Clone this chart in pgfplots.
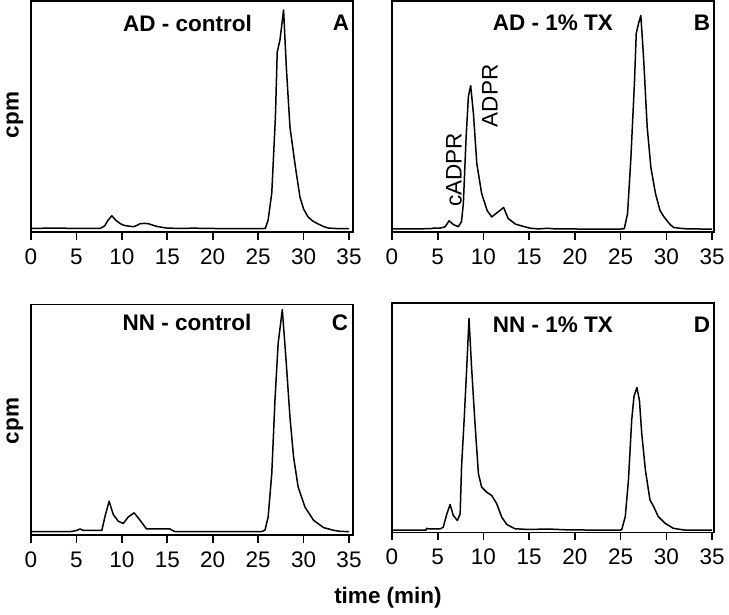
\documentclass[border=0pt]{standalone}
\usepackage{pgfplots}
\pgfplotsset{compat=1.18}
\usepackage{fontspec}
\setmainfont{Liberation Sans}
\pgfplotsset{
  panel/.style={
    scale only axis, width=322pt, anchor=south west,
    xmin=0, axis line style={line width=1.6pt},
    xtick={0,5,...,35}, ytick=\empty, xtick pos=bottom,
    tick align=outside, major tick length=8pt,
    every tick/.style={line width=1.6pt, black},
    tick label style={font=\fontsize{22.5}{26}\selectfont},
    /pgf/number format/assume math mode=true,
    xticklabel style={yshift=-5pt},
    clip=false,
  },
  trace/.style={black, line width=1.5pt, line join=round, no markers},
}
\begin{document}
\begin{tikzpicture}[x=1pt,y=1pt]
\useasboundingbox (0,0) rectangle (729,615);
% Panel A
\begin{axis}[panel, at={(31pt,383pt)}, height=231pt, xmax=35.44, ymin=-3, ymax=228]
\addplot[trace] coordinates {(0,0.7) (3,0.8) (6,0.6) (7.6,0.5) (8.1,3) (8.5,9) (8.9,13.3) (9.3,9) (9.8,5.5) (10.2,3.7) (10.8,2.8) (11.3,2.3) (11.7,3.8) (12.0,5.3) (12.5,5.6) (12.9,5.3) (13.5,3.5) (14.0,2.3) (14.9,1) (16,0.6) (18,0.8) (20,0.5) (23,0.4) (25.5,0.4) (25.8,0.7) (26.1,9) (26.5,36) (26.9,112) (27.1,177) (27.4,189) (27.8,219) (28.1,162) (28.5,102) (29.1,62) (29.6,32) (30.0,20) (30.5,12) (31.0,8) (31.6,5) (32.2,2.5) (32.7,1) (33.5,0.5) (35,0.3)};
\end{axis}
% Panel B
\begin{axis}[panel, at={(392pt,383pt)}, height=231pt, xmax=35.2, ymin=-2.5, ymax=228.5]
\addplot[trace] coordinates {(0,0.5) (3,0.7) (4.2,0.8) (4.6,1.5) (5.25,1.3) (5.8,2.7) (6.24,8.7) (6.7,5) (7.25,2.7) (7.6,8) (7.8,26) (8.1,92) (8.35,133) (8.6,144) (8.9,116) (9.27,66) (9.8,36) (10.4,19) (10.9,12.6) (11.6,17.6) (12.2,22) (12.7,11) (13.5,5.3) (14.4,3) (15.1,1.3) (16,0.6) (17,1.2) (18,0.5) (20,0.5) (23,0.4) (25.2,0.5) (25.4,1) (25.75,16) (26.1,69) (26.5,146) (26.7,196) (26.95,206) (27.2,214) (27.5,172) (27.9,102) (28.3,62) (28.8,36) (29.3,19) (29.7,13) (30.05,9) (30.4,5) (30.8,2) (31.5,1.2) (32.2,0.7) (35,0.3)};
\end{axis}
% Panel C
\begin{axis}[panel, at={(31pt,80pt)}, height=230.5pt, xmax=35.44, ymin=-3, ymax=227.5]
\addplot[trace] coordinates {(0,0.3) (4.5,0.5) (5.0,1.5) (5.4,3) (5.8,1.5) (7.5,1.5) (7.8,1.7) (8.15,15.8) (8.6,30.8) (9.05,17.5) (9.6,10.8) (10.15,8.5) (10.7,15) (11.35,19.2) (12.0,11.8) (12.7,3.2) (13.5,3) (15.3,3) (15.8,0.5) (18,0.3) (25.3,0.3) (25.75,1.7) (26.1,15) (26.5,58.6) (26.85,131.7) (27.2,188.4) (27.66,222.4) (28.1,168.4) (28.5,115) (28.9,75) (29.4,45) (30.15,25) (31.1,11.7) (32.2,4.4) (33.3,1.7) (34,0.7) (35,0.3)};
\end{axis}
% Panel D
\begin{axis}[panel, at={(392pt,82.5pt)}, height=229.5pt, xmax=35.2, ymin=-2, ymax=227.5]
\addplot[trace] coordinates {(0,0.3) (3.7,0.3) (3.8,2.3) (4.0,1.5) (5.3,1.7) (5.6,3.3) (6.0,16.7) (6.35,26) (6.7,15) (7.15,10) (7.45,16.7) (7.6,63) (7.9,113) (8.17,163) (8.42,212) (8.7,163) (9.1,103) (9.45,56.7) (9.8,43.3) (10.35,38.3) (10.9,35) (11.45,26.7) (12.0,13.3) (12.55,6) (13.45,1.7) (15,1) (17,1.5) (19,0.7) (22,0.4) (25.1,0.5) (25.5,13.8) (25.85,50.5) (26.2,110) (26.45,134) (26.77,143) (27.05,130) (27.3,97) (27.7,60.5) (28.2,30.5) (28.6,24) (29.1,14) (29.85,7.2) (30.75,2.2) (31.9,0.5) (35,0.3)};
\end{axis}
% Texts
\begin{scope}[every node/.style={font=\fontsize{22.5}{26}\selectfont\bfseries, inner sep=0pt}]
\node at (187.5,592) {AD - control};
\node at (341,592) {A};
\node at (553,592) {AD - 1\% TX};
\node at (702,592) {B};
\node at (187,292.5) {NN - control};
\node at (340,292.5) {C};
\node at (553,290.5) {NN - 1\% TX};
\node at (702,290.5) {D};
\node[rotate=90] at (15,500) {cpm};
\node[rotate=90] at (15,194) {cpm};
\node at (388,17) {time (min)};
\end{scope}
\begin{scope}[every node/.style={font=\fontsize{22.5}{26}\selectfont, inner sep=0pt, rotate=90}]
\node at (454,445) {cADPR};
\node at (490,519) {ADPR};
\end{scope}
\end{tikzpicture}
\end{document}
